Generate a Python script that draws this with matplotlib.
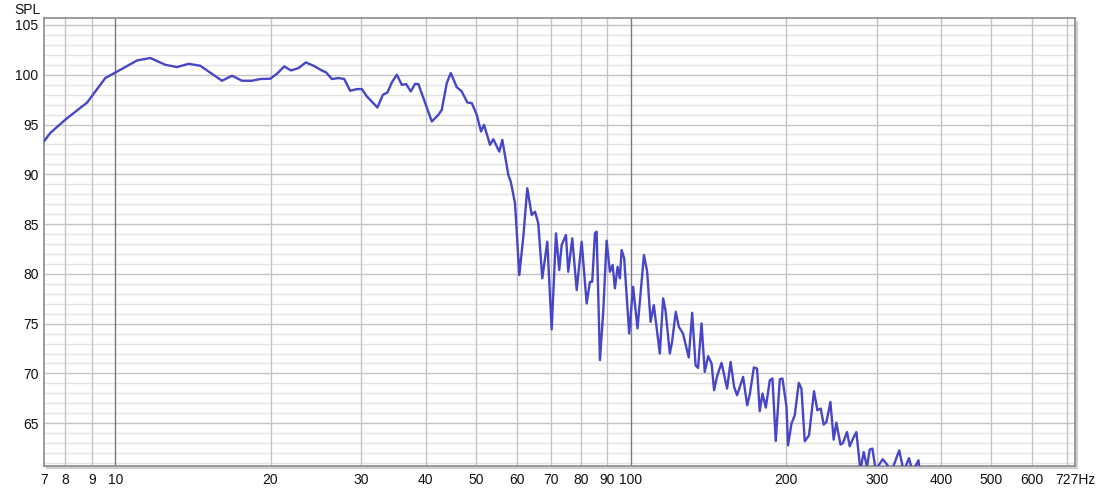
import matplotlib
matplotlib.use('Agg')
import matplotlib.pyplot as plt
from matplotlib.patches import Rectangle

freq = [7.28, 7.48, 8.0, 8.81, 9.56, 10.04, 11.02, 11.69, 12.5, 13.17,
        13.87, 14.61, 16.1, 16.84, 17.6, 18.4, 19.1, 19.97, 20.58, 21.26,
        21.91, 22.66, 23.42, 24.23, 25.15, 25.64, 26.3, 27.09, 27.79, 28.54,
        29.41, 30.07, 30.75, 32.24, 33.03, 33.71, 34.38, 35.15, 35.95, 36.64,
        37.42, 38.14, 38.71, 39.58, 41.1, 42.33, 42.97, 43.94, 44.73, 45.94,
        46.98, 48.17, 49.13, 50.23, 51.2, 51.89, 53.3, 54.09, 55.56, 56.31,
        57.84, 58.47, 59.6, 60.75, 61.85, 62.95, 64.21, 65.16, 66.12, 67.32,
        68.84, 70.2, 71.57, 72.62, 73.41, 74.82, 75.6, 76.97, 78.5, 80.27,
        82.07, 83.29, 84.14, 85.16, 85.81, 87.09, 88.38, 89.73, 91.06, 92.16,
        93.11, 94.24, 95.21, 95.94, 97.05, 99.24, 101.0, 103.0, 106.0, 107.55,
        109.2, 110.8, 113.8, 115.5, 116.7, 119.0, 120.2, 122.2, 123.9, 126.2,
        129.5, 131.5, 133.5, 135.0, 137.1, 139.1, 141.2, 143.4, 145.0, 147.0,
        149.9, 153.7, 156.1, 158.6, 160.7, 165.1, 168.1, 170.1, 173.2, 175.7,
        177.8, 180.0, 182.7, 186.0, 188.2, 191.0, 194.5, 196.8, 200.4, 201.8,
        204.9, 207.9, 211.7, 214.2, 217.4, 221.6, 226.6, 230.0, 233.5, 236.6,
        239.5, 243.8, 247.4, 250.4, 255.0, 257.9, 262.6, 265.8, 269.7, 273.8,
        278.8, 282.9, 287.1, 290.6, 294.1, 298.4, 308.0, 313.8, 320.3, 331.5,
        338.3, 346.3, 351.8, 361.4, 363.1, 370.0]
spl = [93.36, 94.16, 95.5, 97.2, 99.67, 100.27, 101.44, 101.68, 101.0, 100.77,
       101.1, 100.9, 99.4, 99.9, 99.4, 99.4, 99.57, 99.6, 100.1, 100.84,
       100.43, 100.67, 101.24, 100.9, 100.43, 100.23, 99.57, 99.67, 99.57, 98.39,
       98.56, 98.56, 97.82, 96.71, 97.99, 98.22, 99.23, 100.0, 98.99, 99.06,
       98.32, 99.09, 99.06, 97.66, 95.3, 95.98, 96.48, 99.16, 100.17, 98.76,
       98.32, 97.21, 97.15, 95.98, 94.3, 94.97, 92.96, 93.53, 92.28, 93.46,
       89.94, 89.27, 87.09, 79.88, 83.73, 88.6, 85.92, 86.25, 85.08, 79.55,
       83.23, 74.42, 84.07, 80.38, 82.9, 83.9, 80.21, 83.57, 78.37, 83.23,
       77.03, 79.2, 79.2, 84.07, 84.24, 71.33, 76.19, 83.33, 80.21, 80.89,
       78.54, 80.71, 79.55, 82.39, 81.56, 74.01, 78.7, 74.52, 81.89, 80.21,
       75.18, 76.86, 72.0, 77.54, 76.36, 72.0, 73.17, 76.19, 74.68, 74.01,
       71.6, 76.09, 70.82, 70.55, 75.02, 70.15, 71.73, 71.0, 68.31, 69.72,
       71.06, 68.48, 71.16, 68.64, 67.81, 69.65, 66.8, 67.91, 70.6, 70.49,
       66.2, 67.98, 66.57, 69.32, 69.49, 63.21, 69.42, 69.49, 66.63, 62.78,
       64.96, 65.79, 69.05, 68.48, 63.18, 63.78, 68.21, 66.3, 66.47, 64.86,
       65.12, 67.13, 63.35, 65.06, 62.85, 63.01, 64.11, 62.68, 63.45, 64.11,
       60.26, 62.1, 60.6, 62.35, 62.45, 60.3, 61.38, 60.86, 60.16, 62.26,
       60.16, 61.49, 60.16, 61.27, 60.16, 58.0]

x_ticks = [7.27, 8, 9, 10, 20, 30, 40, 50, 60, 70, 80, 90, 100, 200, 300, 400, 500, 600, 727]
x_labels = ['7', '8', '9', '10', '20', '30', '40', '50', '60', '70', '80', '90', '100',
            '200', '300', '400', '500', '600', '727Hz']
y_ticks = [65, 70, 75, 80, 85, 90, 95, 100, 105]

plt.rcParams['font.family'] = ['Liberation Sans', 'DejaVu Sans']

fig = plt.figure(figsize=(10.97, 4.91), dpi=100)
ax = fig.add_axes([44 / 1097, 25 / 491, 1031 / 1097, 448 / 491])

# drop shadow behind the plot frame
fig.patches.append(Rectangle((46 / 1097, 22 / 491), 1032 / 1097, 448 / 491,
                             transform=fig.transFigure, facecolor='#d0d0d0',
                             edgecolor='none', zorder=0))
ax.set_zorder(1)

ax.set_xscale('log')
ax.set_xlim(7.27, 727)
ax.set_ylim(60.7, 105.7)

# grid
for v in range(61, 106):
    c = '#c4c4c4' if v % 5 == 0 else '#e4e4e4'
    ax.axhline(v, color=c, lw=1, zorder=1)
for f in x_ticks[1:-1]:
    c = '#7a7a7a' if f in (10, 100) else '#c4c4c4'
    ax.axvline(f, color=c, lw=1, zorder=1)
ax.axvline(700, color='#c4c4c4', lw=1, zorder=1)

ax.plot(freq, spl, color='#4646c6', lw=1.7, zorder=3)

ax.set_xticks(x_ticks)
ax.set_xticklabels(x_labels)
ax.xaxis.set_minor_locator(matplotlib.ticker.NullLocator())
ax.set_yticks(y_ticks)
ax.tick_params(axis='both', length=0, labelsize=10, colors='#111111')
ax.tick_params(axis='x', pad=5)
ax.tick_params(axis='y', pad=4)

for s in ax.spines.values():
    s.set_color('#8c8c8c')
    s.set_linewidth(1.2)

fig.text(14 / 1097, 1 - 3 / 491, 'SPL', ha='left', va='top', fontsize=10, color='#111111')

fig.savefig('out.png', dpi=100, facecolor='white')
